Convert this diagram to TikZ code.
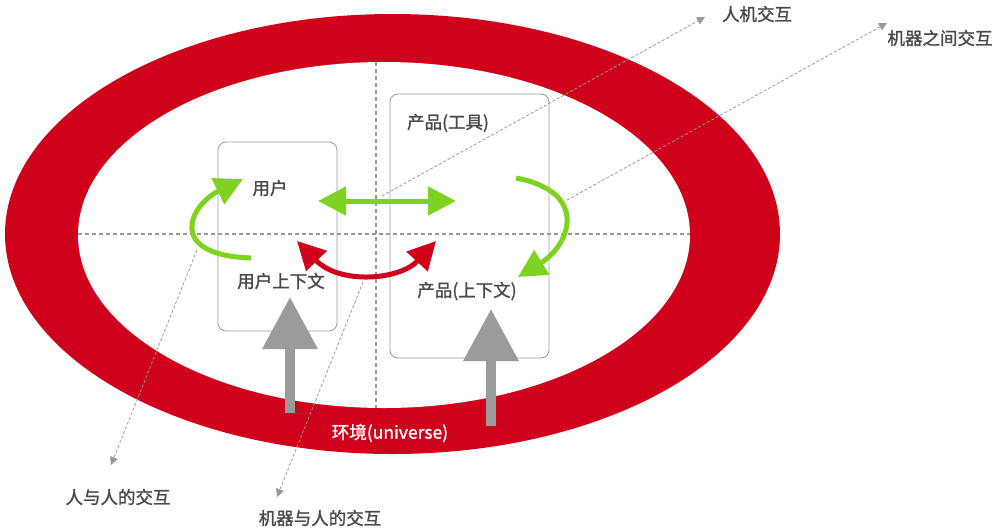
\documentclass[tikz,border=0pt]{standalone}
\usepackage{fontspec}
\setmainfont{Noto Sans CJK SC}[FakeBold=1.3]
\usetikzlibrary{arrows.meta}
\definecolor{envred}{HTML}{D0021B}
\definecolor{lgreen}{HTML}{7ED321}
\definecolor{agray}{HTML}{9B9B9B}
\definecolor{bgray}{HTML}{999999}
\definecolor{tgray}{HTML}{4A4A4A}
\tikzset{
  lbl/.style={text=tgray,font=\fontsize{17.5}{20}\selectfont,inner sep=0pt},
  boxnode/.style={draw=bgray,line width=0.8pt,rounded corners=8pt,inner sep=0pt},
  grnarrow/.style={draw=lgreen,line width=5pt,{Triangle[length=28pt,width=28pt]}-{Triangle[length=28pt,width=28pt]}},
  grnone/.style={draw=lgreen,line width=5pt,-{Triangle[length=28pt,width=28pt]}},
  redarrow/.style={draw=envred,line width=5pt,{Triangle[length=28pt,width=28pt]}-{Triangle[length=28pt,width=28pt]}},
  grayup/.style={draw=agray,line width=10pt,-{Triangle[length=52pt,width=53pt]}},
  thinarrow/.style={draw=bgray,line width=0.8pt,dash pattern=on 3pt off 2pt,-{Triangle[length=8pt,width=8pt]}},
  axis/.style={draw=bgray,line width=1.5pt,dash pattern=on 4pt off 3pt}
}
\begin{document}
\begin{tikzpicture}[x=1pt,y=-1pt]
\useasboundingbox (0,0) rectangle (995,531);
% environment ring
\fill[envred] (392.5,234) ellipse [x radius=387.5, y radius=220];
\fill[white] (384,235) ellipse [x radius=306, y radius=173];
% axes
\draw[axis] (78,234) -- (690,234);
\draw[axis] (376,62) -- (376,408);
% boxes
\node[boxnode,minimum width=119pt,minimum height=189pt] (userbox) at (277.5,236.5) {};
\node[boxnode,minimum width=159pt,minimum height=264pt] (prodbox) at (469.5,226) {};
% labels
\node[lbl] (user) at (270,188) {用户};
\node[lbl] (userctx) at (281,281) {用户上下文};
\node[lbl] (tool) at (448,123) {产品(工具)};
\node[lbl] (prodctx) at (467,291) {产品(上下文)};
\node[text=white,font=\fontsize{17.5}{20}\selectfont,inner sep=0pt] (env) at (390,433) {环境(universe)};
\node[lbl] (hmi) at (757,14) {人机交互};
\node[lbl] (m2m) at (940,38) {机器之间交互};
\node[lbl] (h2h) at (118,497) {人与人的交互};
\node[lbl] (m2h) at (320,518) {机器与人的交互};
% coordinates
\coordinate (ga1) at (318,201);
\coordinate (ga2) at (456,201);
\coordinate (gl0) at (251,258);
\coordinate (gl1) at (243,179);
\coordinate (gr0) at (516,178);
\coordinate (gr1) at (518,277);
\coordinate (r0) at (297,241);
\coordinate (r1) at (436,241);
\coordinate (up1b) at (290,413);
\coordinate (up1t) at (290,297);
\coordinate (up2b) at (491,426);
\coordinate (up2t) at (491,309);
\coordinate (d1s) at (382,196);
\coordinate (d1e) at (705,17);
\coordinate (d2s) at (567,200);
\coordinate (d2e) at (887,23);
\coordinate (d3s) at (197,250);
\coordinate (d3e) at (111,465);
\coordinate (d4s) at (363,282);
\coordinate (d4e) at (277,497);
% thin dashed arrows
\draw[thinarrow] (d1s) -- (d1e);
\draw[thinarrow] (d2s) -- (d2e);
\draw[thinarrow] (d3s) -- (d3e);
\draw[thinarrow] (d4s) -- (d4e);
% green arrows
\draw[grnarrow] (ga1) -- (ga2);
\draw[grnone] (gl0) .. controls (165,255) and (190,205) .. (gl1);
\draw[grnone] (gr0) .. controls (590,192) and (570,245) .. (gr1);
% red arrow
\draw[redarrow] (r0) .. controls (340,285) and (400,280) .. (r1);
% gray arrows
\draw[grayup] (up1b) -- (up1t);
\draw[grayup] (up2b) -- (up2t);
\end{tikzpicture}
\end{document}
